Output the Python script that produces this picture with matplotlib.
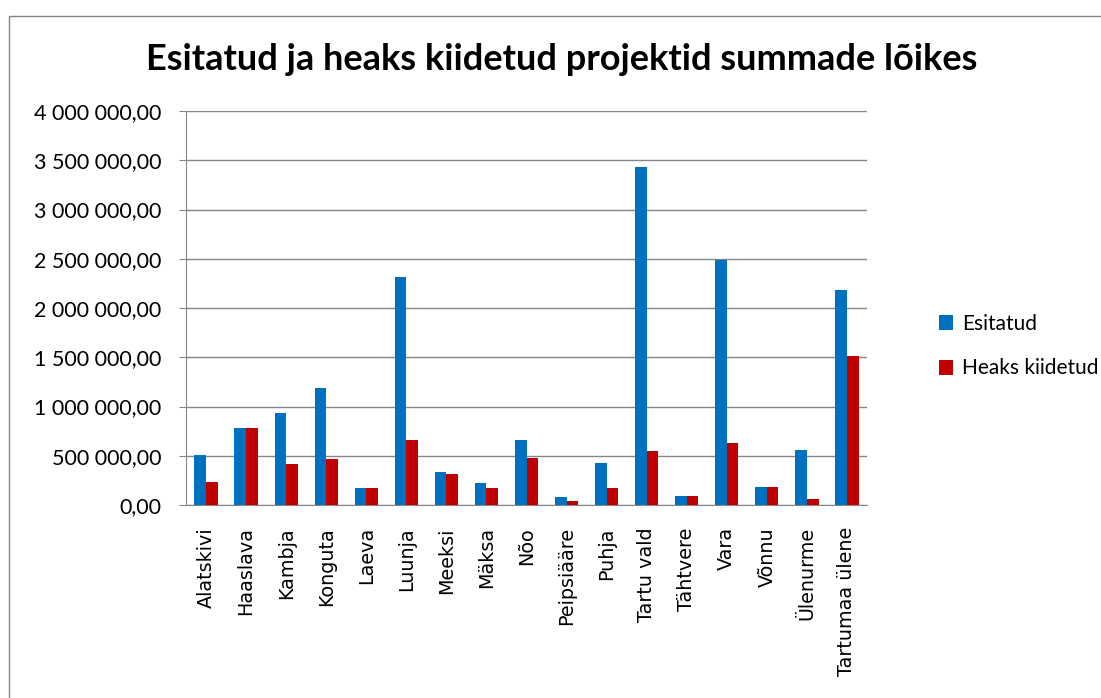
import matplotlib.pyplot as plt
from matplotlib.patches import Rectangle
from matplotlib.ticker import FuncFormatter, MultipleLocator
import numpy as np

# vallad ja summad (loetud pildilt)
vallad = ['Alatskivi', 'Haaslava', 'Kambja', 'Konguta', 'Laeva', 'Luunja', 'Meeksi',
          'Mäksa', 'Nõo', 'Peipsiääre', 'Puhja', 'Tartu vald', 'Tähtvere', 'Vara',
          'Võnnu', 'Ülenurme', 'Tartumaa ülene']
esitatud = [505000, 782000, 934000, 1188000, 173000, 2318000, 335000,
            223000, 660000, 81000, 426000, 3432000, 91000, 2485000,
            183000, 558000, 2183000]
heaks_kiidetud = [233000, 782000, 416000, 467000, 173000, 660000, 315000,
                  173000, 477000, 41000, 173000, 548000, 91000, 629000,
                  183000, 61000, 1515000]

plt.rcParams['font.family'] = ['Lato', 'DejaVu Sans']

fig = plt.figure(figsize=(11.01, 6.98), dpi=100)
ax = fig.add_axes([186 / 1101, 1 - 505 / 698, (867 - 186) / 1101, (505 - 111) / 698])

# raam ümber kogu diagrammi
fig.patches.append(Rectangle((9 / 1101, -0.1), 1.2, (698 - 16) / 698 + 0.1,
                             transform=fig.transFigure, fill=False,
                             edgecolor='#868686', linewidth=1))

x = np.arange(len(vallad))
w = 0.29
ax.bar(x - w / 2, esitatud, w, color='#0070C0', label='Esitatud', zorder=3)
ax.bar(x + w / 2, heaks_kiidetud, w, color='#C00000', label='Heaks kiidetud', zorder=3)

ax.set_xlim(-0.5, len(vallad) - 0.5)
ax.set_ylim(0, 4000000)
ax.yaxis.set_major_locator(MultipleLocator(500000))
ax.yaxis.set_major_formatter(FuncFormatter(
    lambda v, p: f'{v:,.2f}'.replace(',', ' ').replace('.', ',')))
ax.grid(axis='y', color='#868686', linewidth=1, zorder=0)

ax.set_xticks(x)
ax.set_xticklabels(vallad, rotation=90, fontsize=13.8, family=['DejaVu Sans'])
ax.tick_params(axis='x', length=0, pad=16)
ax.tick_params(axis='y', length=5, color='#868686', labelsize=15.5, pad=13)

for s in ['top', 'right']:
    ax.spines[s].set_visible(False)
for s in ['left', 'bottom']:
    ax.spines[s].set_color('#868686')

fig.text(562 / 1101, 1 - 60 / 698, 'Esitatud ja heaks kiidetud projektid summade lõikes',
         ha='center', va='center', fontsize=26, fontweight='bold')

fig.legend(loc='center left', bbox_to_anchor=(920 / 1101, 1 - 346 / 698),
           frameon=False, fontsize=15, handlelength=0.7, handleheight=0.7,
           labelspacing=1.2, handletextpad=0.4)

fig.savefig('out.png', dpi=100)
